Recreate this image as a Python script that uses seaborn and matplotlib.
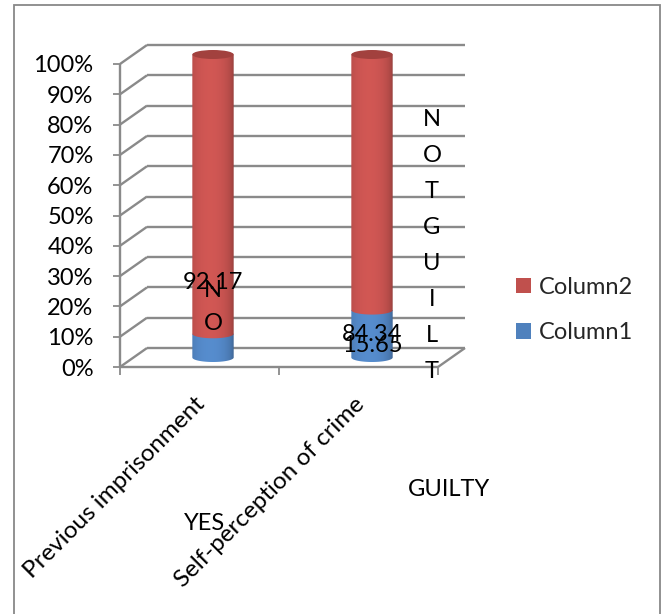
import numpy as np
import pandas as pd
import matplotlib
matplotlib.use("Agg")
import matplotlib.pyplot as plt
import matplotlib.colors as mcolors
import matplotlib.transforms as mtransforms
from matplotlib.patches import Ellipse, PathPatch, Patch, Rectangle
from matplotlib.path import Path
import seaborn as sns

# ---- data -------------------------------------------------------------
categories = ["Previous imprisonment", "Self-perception of crime"]
column1 = [7.83, 15.65]
column2 = [92.17, 84.34]
series_names = ["Column1", "Column2"]
y_ticks = [0, 10, 20, 30, 40, 50, 60, 70, 80, 90, 100]
y_tick_labels = [f"{t}%" for t in y_ticks]

blue = "#4F81BD"
red = "#C0504D"

# 100 % stacked shares
total = np.array(column1) + np.array(column2)
share1 = np.array(column1) / total * 100
df = pd.DataFrame({"category": categories, "stack_top": 100.0, "share1": share1})

sns.set_theme(style="white")
plt.rcParams["font.family"] = ["Lato", "DejaVu Sans"]
FS = 17

W, H = 666, 614
fig = plt.figure(figsize=(W / 100, H / 100), dpi=100)


def fx(x):
    return x / W


def fy(y):
    return 1 - y / H


# front plane of the 3-D box, in pixels
AX_L, AX_R, AX_T, AX_B = 120, 438, 64, 367
ax = fig.add_axes([fx(AX_L), fy(AX_B), fx(AX_R - AX_L), (AX_B - AX_T) / H])
ax.set_facecolor("none")
for s in ax.spines.values():
    s.set_visible(False)

XMIN, XMAX = -0.5, 1.5
ax.set_xlim(XMIN, XMAX)
ax.set_ylim(0, 100)

# depth of the box (pixels) and its data-unit equivalent
DEPTH_X, DEPTH_Y = 27, 19
px_x = (AX_R - AX_L) / (XMAX - XMIN)
px_y = (AX_B - AX_T) / 100.0
ddx, ddy = DEPTH_X / px_x, DEPTH_Y / px_y

grid_kw = dict(color="#8A8A8A", lw=1.7, clip_on=False, zorder=1,
               solid_capstyle="butt")
for t in y_ticks:
    # left wall diagonal and back wall line
    ax.plot([XMIN, XMIN + ddx], [t, t + ddy], **grid_kw)
    ax.plot([XMIN + ddx, XMAX + ddx], [t + ddy, t + ddy], **grid_kw)
# floor front edge, right floor edge and front vertical axis
ax.plot([XMIN, XMAX], [0, 0], **grid_kw)
ax.plot([XMAX, XMAX + ddx], [0, ddy], **grid_kw)
ax.plot([XMIN, XMIN], [0, 100], **grid_kw)

# ---- cylinders ---------------------------------------------------------
mid = ax.transData + mtransforms.ScaledTranslation(
    DEPTH_X / 2 / 100, DEPTH_Y / 2 / 100, fig.dpi_scale_trans)

sns.barplot(data=df, x="category", y="stack_top", color=red, width=0.26,
            saturation=1, ax=ax, zorder=3)
n_red = len(ax.patches)
sns.barplot(data=df, x="category", y="share1", color=blue, width=0.26,
            saturation=1, ax=ax, zorder=3)
red_bars = ax.patches[:n_red]
blue_bars = ax.patches[n_red:]

ELL_H = 9 / px_y  # ellipse height of the caps in data units


def shade_strip(hex_color, n=96):
    base = np.array(mcolors.to_rgb(hex_color))
    u = np.linspace(-1, 1, n)
    w = np.sqrt(np.clip(1 - ((u + 0.15) / 1.15) ** 2, 0, 1))
    dark = base * 0.74
    light = np.clip(base * 1.09, 0, 1)
    rgb = dark[None, :] + (light - dark)[None, :] * w[:, None]
    return rgb[None, :, :]


def body_path(x0, wdt, y0, y1):
    xc = x0 + wdt / 2
    t = np.linspace(np.pi, 2 * np.pi, 60)
    arc = np.column_stack([xc + wdt / 2 * np.cos(t),
                           y0 + ELL_H / 2 * np.sin(t)])
    verts = np.vstack([[x0, y1], arc, [x0 + wdt, y1], [x0, y1]])
    codes = [Path.MOVETO] + [Path.LINETO] * (len(verts) - 2) + [Path.CLOSEPOLY]
    return Path(verts, codes)


def draw_body(x0, wdt, y0, y1, color, z):
    clip = PathPatch(body_path(x0, wdt, y0, y1), transform=mid)
    im = ax.imshow(shade_strip(color), extent=(x0, x0 + wdt, y0 - ELL_H, y1),
                   transform=mid, aspect="auto", interpolation="bilinear",
                   zorder=z)
    im.set_clip_path(clip)
    im.set_clip_box(fig.bbox)


for rb, bb in zip(red_bars, blue_bars):
    for p in (rb, bb):
        p.set_transform(mid)
        p.set_visible(False)
    x0, wdt = bb.get_x(), bb.get_width()
    top1 = bb.get_height()
    draw_body(x0, wdt, 0, top1, blue, 3)
    draw_body(x0, wdt, top1, rb.get_height(), red, 4)
    cap = Ellipse((x0 + wdt / 2, rb.get_height()), wdt, ELL_H, angle=0,
                  transform=mid, facecolor="#A2413E", edgecolor="none",
                  zorder=5, clip_on=False)
    ax.add_patch(cap)

ax.set_xlim(XMIN, XMAX)
ax.set_ylim(0, 100)

# ---- axes ticks ---------------------------------------------------------
ax.set_xlabel("")
ax.set_ylabel("")
ax.set_yticks(y_ticks)
ax.set_yticklabels(y_tick_labels, fontsize=FS, color="black")
ax.tick_params(axis="y", left=True, length=5, width=1.3, color="#8A8A8A",
               pad=14)
ax.set_xticks(range(len(categories)))
ax.set_xticklabels(categories, rotation=45, ha="right",
                   rotation_mode="anchor", fontsize=FS + 0.5, color="black")
ax.tick_params(axis="x", bottom=False, pad=13)
shift = mtransforms.ScaledTranslation(-5 / 100, 0, fig.dpi_scale_trans)
for lbl in ax.get_xticklabels():
    lbl.set_transform(lbl.get_transform() + shift)
ax.set_xticks([XMIN, 0.5, XMAX], minor=True)
ax.tick_params(axis="x", which="minor", bottom=True, length=6, width=1.3,
               color="#8A8A8A")
ax.grid(False)

# ---- data labels and annotations ---------------------------------------
txt = dict(fontsize=FS, color="black", ha="center", va="center", zorder=8)
ax.text(0, 24.6, f"{column2[0]:.2f}", transform=mid, **txt)
ax.text(0, 22.0, "N", transform=mid, **txt)
ax.text(0, 11.3, "O", transform=mid, **txt)
ax.text(1, 7.6, f"{column2[1]:.2f}", transform=mid, **txt)
ax.text(1, 4.0, f"{column1[1]:.2f}", transform=mid, **txt)

for i, ch in enumerate("NOTGUILT"):
    fig.text(fx(432), fy(120 + i * 36), ch, **txt)
fig.text(fx(205), fy(523), "YES", **txt)
fig.text(fx(449), fy(490), "GUILTY", **txt)

# ---- legend --------------------------------------------------------------
handles = [Patch(facecolor=red, edgecolor="none", label=series_names[1]),
           Patch(facecolor=blue, edgecolor="none", label=series_names[0])]
fig.legend(handles=handles, loc="center left",
           bbox_to_anchor=(fx(516), fy(310)), frameon=False, fontsize=FS,
           handlelength=0.62, handleheight=0.62, handletextpad=0.35,
           labelspacing=1.05, borderpad=0, borderaxespad=0)

# chart border
fig.patches.append(Rectangle((fx(14), -0.1), fx(660 - 14), fy(5) + 0.1,
                             transform=fig.transFigure, fill=False,
                             edgecolor="#888888", lw=1.3))

fig.savefig("out.png", dpi=100)
